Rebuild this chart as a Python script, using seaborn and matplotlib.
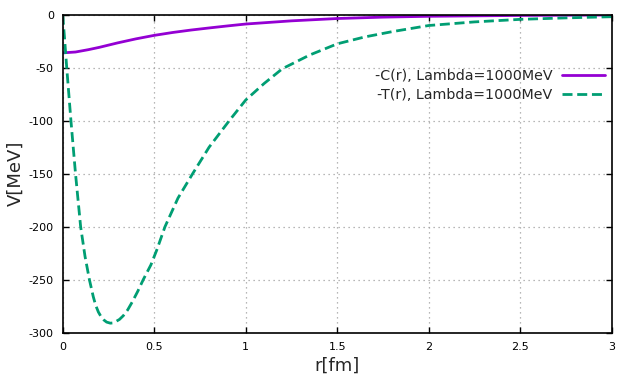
import matplotlib
matplotlib.use("Agg")
import matplotlib.pyplot as plt
import seaborn as sns
import pandas as pd

# -C(r) readings
r_c = [0.0, 0.07, 0.14, 0.2, 0.3, 0.4, 0.5, 0.6, 0.7, 0.8, 0.9, 1.0, 1.25, 1.5, 1.75, 2.0, 2.5, 3.0]
v_c = [-36.0, -35.2, -33.0, -30.8, -26.6, -22.8, -19.5, -16.8, -14.5, -12.5, -10.6, -8.8, -5.8, -3.6, -2.3, -1.5, -0.7, -0.3]

# -T(r) readings
r_t = [0.0, 0.01, 0.022, 0.045, 0.07, 0.098, 0.122, 0.146, 0.167, 0.18, 0.195, 0.21, 0.225, 0.24, 0.26,
       0.275, 0.29, 0.31, 0.331, 0.355, 0.38, 0.41, 0.44, 0.482, 0.514, 0.559, 0.63, 0.71, 0.8, 0.91,
       1.0, 1.1, 1.2, 1.35, 1.5, 1.65, 1.8, 2.0, 2.25, 2.5, 2.75, 3.0]
v_t = [0.0, -22.0, -50.0, -100.0, -150.0, -200.0, -228.0, -250.0, -266.0, -274.0, -280.5, -285.0, -288.0, -290.0, -291.0,
       -290.8, -289.5, -287.5, -284.0, -278.5, -271.0, -261.0, -250.0, -236.0, -222.0, -200.0, -173.0, -150.0, -125.0, -100.0,
       -80.5, -65.0, -51.0, -38.0, -27.5, -21.0, -16.0, -10.2, -6.8, -4.4, -3.0, -1.9]

x_ticks = [0, 0.5, 1, 1.5, 2, 2.5, 3]
x_labels = ["0", "0.5", "1", "1.5", "2", "2.5", "3"]
y_ticks = [0, -50, -100, -150, -200, -250, -300]
y_labels = ["0", "-50", "-100", "-150", "-200", "-250", "-300"]

label_c = "-C(r), Lambda=1000MeV"
label_t = "-T(r), Lambda=1000MeV"

sns.set_style("white")
plt.rcParams["font.family"] = ["DejaVu Sans"]
plt.rcParams["axes.unicode_minus"] = False

fig = plt.figure(figsize=(6.4, 3.84), dpi=100)
ax = fig.add_axes([62.7 / 640, 1 - 332.7 / 384, (611.7 - 62.7) / 640, (332.7 - 14.7) / 384])

df_c = pd.DataFrame({"r": r_c, "V": v_c})
df_t = pd.DataFrame({"r": r_t, "V": v_t})

sns.lineplot(data=df_c, x="r", y="V", color="#9400d3", linewidth=2.0, label=label_c, ax=ax)
sns.lineplot(data=df_t, x="r", y="V", color="#009e73", linewidth=2.0, label=label_t, ax=ax)
ax.lines[1].set_dashes((3.6, 1.7))
for ln in ax.lines:
    ln.set_solid_joinstyle("round")
    ln.set_dash_joinstyle("round")

ax.set_xlim(0, 3)
ax.set_ylim(-300, 0)
ax.set_xticks(x_ticks)
ax.set_xticklabels(x_labels)
ax.set_yticks(y_ticks)
ax.set_yticklabels(y_labels)

ax.tick_params(direction="in", length=4.5, width=1.0, colors="black", labelsize=8,
               top=True, right=True, bottom=True, left=True)
ax.tick_params(axis="y", pad=6.3)
ax.tick_params(axis="x", pad=7)

ax.grid(True, color="#a0a0a0", linestyle=(0, (1, 3)), linewidth=0.9)
for s in ax.spines.values():
    s.set_visible(True)
    s.set_color("black")
    s.set_linewidth(1.2)

ax.set_xlabel("r[fm]", fontsize=13, labelpad=3)
ax.set_ylabel("V[MeV]", fontsize=13, labelpad=3)

leg = ax.legend(loc="upper right", bbox_to_anchor=(0.988, 0.828), frameon=False,
                markerfirst=False, fontsize=10.3, handlelength=3.0, handletextpad=0.7,
                borderaxespad=0, borderpad=0, labelspacing=0.3)
for h in leg.get_lines():
    h.set_linewidth(2.0)
leg.get_lines()[1].set_dashes((3.6, 1.7))

fig.savefig("out.png", dpi=100)
